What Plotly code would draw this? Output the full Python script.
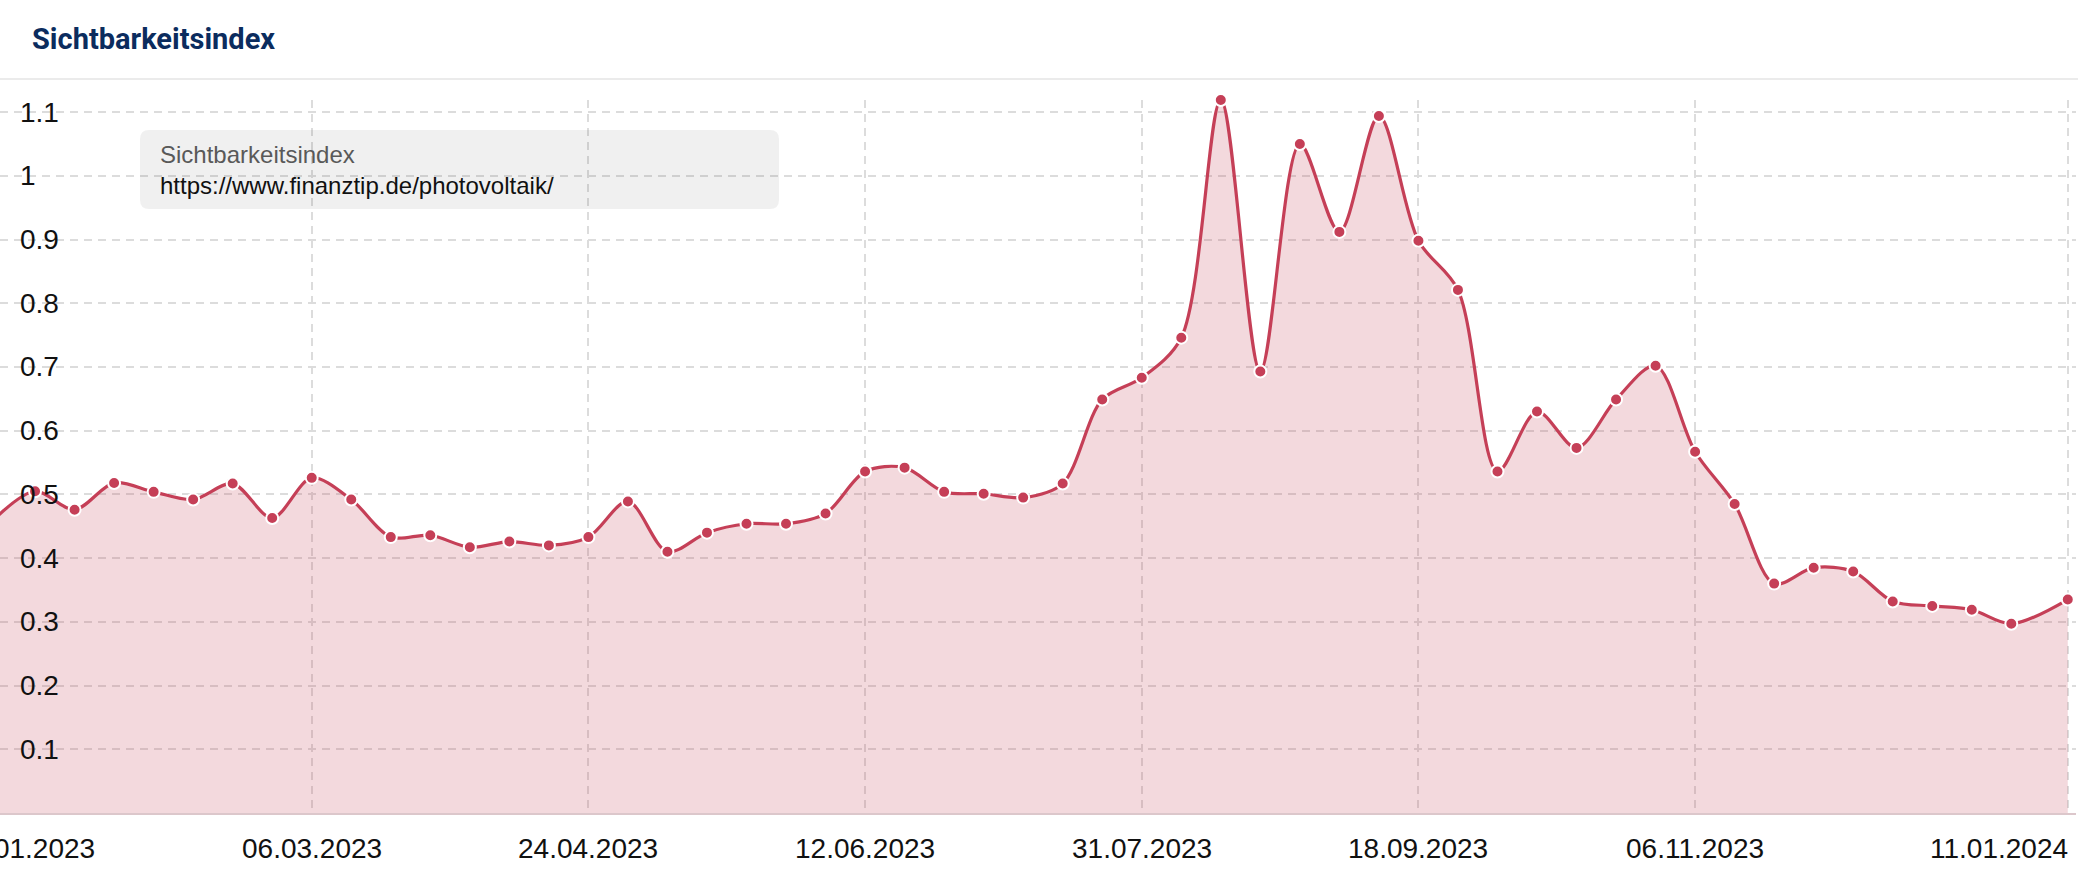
import plotly.graph_objects as go

# ---------------- data ----------------
dates = [
    "2023-01-09", "2023-01-16", "2023-01-23", "2023-01-30",
    "2023-02-06", "2023-02-13", "2023-02-20", "2023-02-27",
    "2023-03-06", "2023-03-13", "2023-03-20", "2023-03-27",
    "2023-04-03", "2023-04-10", "2023-04-17", "2023-04-24",
    "2023-05-01", "2023-05-08", "2023-05-15", "2023-05-22", "2023-05-29",
    "2023-06-05", "2023-06-12", "2023-06-19", "2023-06-26",
    "2023-07-03", "2023-07-10", "2023-07-17", "2023-07-24", "2023-07-31",
    "2023-08-07", "2023-08-14", "2023-08-21", "2023-08-28",
    "2023-09-04", "2023-09-11", "2023-09-18", "2023-09-25",
    "2023-10-02", "2023-10-09", "2023-10-16", "2023-10-23", "2023-10-30",
    "2023-11-06", "2023-11-13", "2023-11-20", "2023-11-27",
    "2023-12-04", "2023-12-11", "2023-12-18", "2023-12-25",
    "2024-01-01", "2024-01-11",
]
values = [
    0.463, 0.505, 0.476, 0.518, 0.504, 0.492, 0.517, 0.463, 0.526, 0.492,
    0.433, 0.436, 0.417, 0.426, 0.420, 0.433, 0.489, 0.410, 0.440, 0.454,
    0.454, 0.470, 0.536, 0.542, 0.504, 0.501, 0.495, 0.517, 0.649, 0.683,
    0.746, 1.119, 0.693, 1.050, 0.912, 1.094, 0.898, 0.821, 0.536, 0.630,
    0.573, 0.649, 0.702, 0.567, 0.485, 0.360, 0.385, 0.379, 0.332, 0.325,
    0.319, 0.297, 0.335,
]
# gridline dates (vertical dashed lines)
x_grid_dates = ["2023-03-06", "2023-04-24", "2023-06-12",
                "2023-07-31", "2023-09-18", "2023-11-06", "2024-01-11"]
# x-axis labels (first one is cut by the left edge, as in the original)
x_label_dates = ["2023-01-16", "2023-03-06", "2023-04-24", "2023-06-12",
                 "2023-07-31", "2023-09-18", "2023-11-06", "2024-01-11"]
x_label_text = ["16.01.2023", "06.03.2023", "24.04.2023", "12.06.2023",
                "31.07.2023", "18.09.2023", "06.11.2023", "11.01.2024"]
y_tick_vals = [0.1, 0.2, 0.3, 0.4, 0.5, 0.6, 0.7, 0.8, 0.9, 1.0, 1.1]
y_tick_text = ["0.1", "0.2", "0.3", "0.4", "0.5", "0.6", "0.7", "0.8", "0.9", "1", "1.1"]

title_text = "Sichtbarkeitsindex"
legend_name = "Sichtbarkeitsindex"
legend_url = "https://www.finanztip.de/photovoltaik/"

# ---------------- layout geometry ----------------
W, H = 2078, 880
ML, MR, MT, MB = 0, 2, 100, 67
PW = W - ML - MR
PH = H - MT - MB


def px(x):
    return (x - ML) / PW


def py(y):
    return (H - MB - y) / PH


def rounded_rect(x0, y0, x1, y1, r):
    rx, ry = r / PW, r / PH
    X0, X1, Y0, Y1 = px(x0), px(x1), py(y0), py(y1)
    return (f"M{X0+rx},{Y0} L{X1-rx},{Y0} Q{X1},{Y0} {X1},{Y0-ry} "
            f"L{X1},{Y1+ry} Q{X1},{Y1} {X1-rx},{Y1} L{X0+rx},{Y1} "
            f"Q{X0},{Y1} {X0},{Y1+ry} L{X0},{Y0-ry} Q{X0},{Y0} {X0+rx},{Y0} Z")


LINE = "#c53f57"
FILL = "rgba(197,63,87,0.2)"
GRID = "#dcdcdc"
AXIS_FONT = dict(family="Liberation Sans, Arial, Helvetica", size=28, color="#111111")

fig = go.Figure()
fig.add_trace(go.Scatter(
    x=dates, y=values, mode="lines+markers",
    line=dict(color=LINE, width=3.2, shape="spline", smoothing=0.9),
    marker=dict(size=12, color=LINE, line=dict(color="white", width=2)),
    fill="tozeroy", fillcolor=FILL, cliponaxis=False,
    showlegend=False, hoverinfo="skip",
))

annotations = []
for v, t in zip(y_tick_vals, y_tick_text):
    annotations.append(dict(
        x=px(18), xref="paper", xanchor="left",
        y=v, yref="y", yanchor="middle",
        text=t, showarrow=False, font=AXIS_FONT,
    ))
for i, (d, t) in enumerate(zip(x_label_dates, x_label_text)):
    a = dict(x=d, xref="x", y=0, yref="paper", yanchor="middle", yshift=-35,
             text=t, showarrow=False, font=AXIS_FONT, xanchor="center")
    if i == 0:
        a["xshift"] = -10
    if i == len(x_label_dates) - 1:
        a["xanchor"] = "right"
        a["xshift"] = 2
    annotations.append(a)

annotations.append(dict(
    x=px(158), xref="paper", xanchor="left", y=py(154), yref="paper", yanchor="middle",
    text=legend_name, showarrow=False,
    font=dict(family="Liberation Sans, Arial, Helvetica", size=24, color="#595959"),
))
annotations.append(dict(
    x=px(158), xref="paper", xanchor="left", y=py(185), yref="paper", yanchor="middle",
    text=legend_url, showarrow=False,
    font=dict(family="Liberation Sans, Arial, Helvetica", size=24, color="#111111"),
))

shapes = [
    dict(type="line", xref="paper", yref="paper", x0=px(0), x1=px(W), y0=py(79), y1=py(79),
         line=dict(color="#ebebeb", width=2), layer="above"),
    dict(type="path", xref="paper", yref="paper", path=rounded_rect(140, 130, 779, 209, 9),
         fillcolor="rgba(0,0,0,0.06)", line=dict(width=0), layer="above"),
]

fig.update_layout(
    width=W, height=H,
    margin=dict(l=ML, r=MR, t=MT, b=MB),
    paper_bgcolor="white", plot_bgcolor="white",
    title=dict(text=f"<b>{title_text}</b>", xref="container", yref="container",
               x=32 / W, xanchor="left", y=1 - 39 / H, yanchor="middle",
               font=dict(family="Roboto", size=29, color="#0b2c5e")),
    xaxis=dict(type="date", range=["2023-01-09 19:00", "2024-01-12 11:00"],
               tickvals=x_grid_dates, showticklabels=False, ticks="",
               showgrid=True, gridcolor=GRID, gridwidth=2, griddash="8px,6px",
               showline=True, linecolor="#dcc7cb", linewidth=2, zeroline=False,
               fixedrange=True),
    yaxis=dict(range=[0, 1.119], tickvals=y_tick_vals, showticklabels=False, ticks="",
               showgrid=True, gridcolor=GRID, gridwidth=2, griddash="8px,6px",
               zeroline=False, showline=False, fixedrange=True),
    annotations=annotations,
    shapes=shapes,
)

fig.write_html(
    "out.html",
    config={"displayModeBar": False, "staticPlot": True},
    post_script="document.body.style.margin='0';document.body.style.padding='0';"
                "document.body.style.overflow='hidden';",
)
